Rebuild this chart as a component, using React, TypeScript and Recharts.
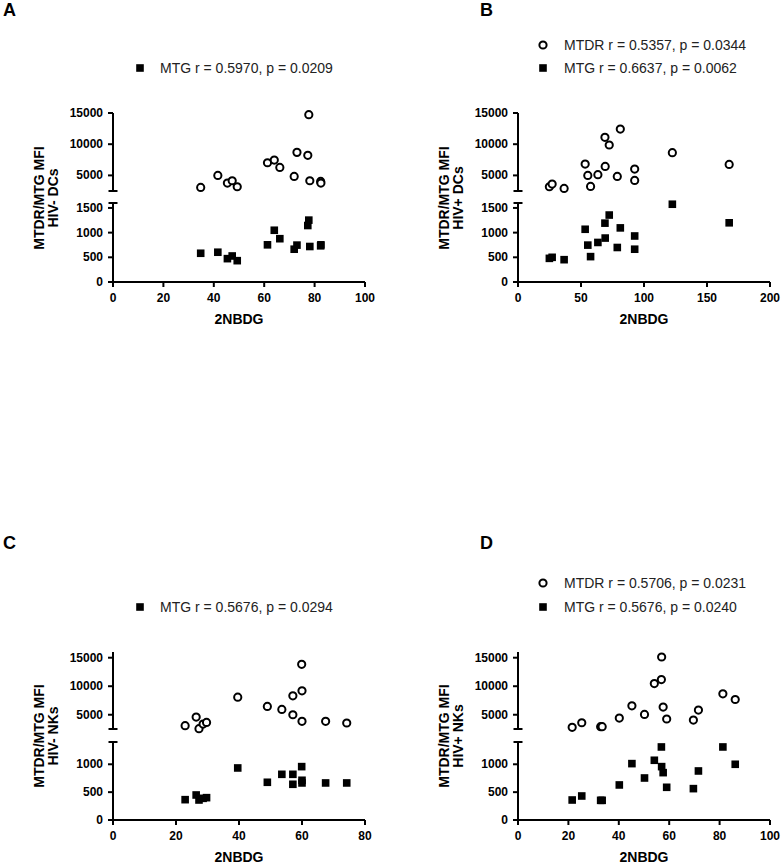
import { ScatterChart, Scatter, XAxis, YAxis } from 'recharts';

const FONT = '"Liberation Sans", Arial, Helvetica, sans-serif';

// A: HIV- DCs
const dcNegX = [34.8, 41.6, 45.4, 47.3, 49.3, 61.3, 64.0, 66.2, 71.9, 73.0, 77.3, 77.7, 78.1, 82.4, 82.5];
const dcNegMTDR = [3075, 5000, 3770, 4140, 3180, 7030, 7460, 6280, 4840, 8690, 8210, 14730, 4140, 4040, 3770];
const dcNegMTG = [582, 603, 473, 527, 432, 753, 1048, 877, 664, 747, 1144, 1253, 719, 733, 753];

// B: HIV+ DCs
const dcPosX = [24.9, 27.1, 36.6, 53.3, 55.4, 57.6, 63.4, 69.0, 69.2, 72.4, 78.8, 81.2, 92.6, 92.6, 122.5, 167.6];
const dcPosMTDR = [3180, 3610, 2910, 6820, 5000, 3240, 5110, 11100, 6440, 9870, 4840, 12430, 6020, 4200, 8640, 6760];
const dcPosMTG = [479, 500, 452, 1068, 747, 514, 801, 1192, 890, 1356, 699, 1096, 932, 664, 1575, 1199];

// C: HIV- NKs
const nkNegX = [22.9, 26.4, 27.3, 28.6, 29.7, 39.6, 49.0, 53.6, 57.1, 57.1, 60.0, 59.9, 60.0, 67.5, 74.2];
const nkNegMTDR = [3080, 4590, 2560, 3370, 3660, 8080, 6450, 5930, 8310, 5000, 9190, 13840, 3840, 3840, 3550];
const nkNegMTG = [365, 449, 359, 389, 401, 934, 677, 820, 820, 641, 713, 958, 665, 665, 665];

// D: HIV+ NKs
const nkPosX = [21.5, 25.3, 32.8, 33.4, 40.2, 45.2, 50.2, 54.1, 56.9, 57.0, 57.6, 59.0, 69.6, 71.6, 81.3, 86.2];
const nkPosMTDR = [2790, 3600, 2910, 2910, 4420, 6570, 5060, 10470, 11160, 15120, 6340, 4250, 4070, 5810, 8660, 7670];
const nkPosMTG = [359, 431, 353, 353, 629, 1012, 754, 1072, 1311, 958, 850, 587, 563, 880, 1311, 1000];

const xTicks100 = [0, 20, 40, 60, 80, 100];
const xTicks200 = [0, 50, 100, 150, 200];
const xTicks80 = [0, 20, 40, 60, 80];

const toPoints = (xs: number[], ys: number[]) => xs.map((x, i) => ({ x, y: ys[i] }));

const TICK = 5;
const GAP = 5;
const YW = 60;
const PAD = 6;
const RIGHT = 18;
const XH = 26;
const PLOT_W = 252;

const axisLine = { stroke: '#000', strokeWidth: 2 };

function YTick(props: any) {
  const { x, y, payload, cap } = props;
  const ax = x + TICK + GAP;
  if (payload.value === cap) {
    return <line x1={ax - 4.5} x2={ax + 4.5} y1={y} y2={y} stroke="#000" strokeWidth={2} />;
  }
  return (
    <g>
      <line x1={ax - TICK} x2={ax} y1={y} y2={y} stroke="#000" strokeWidth={2} />
      <text x={x} y={y} textAnchor="end" dominantBaseline="central" fontSize={12} fontWeight="bold" fontFamily={FONT} fill="#000">
        {payload.value}
      </text>
    </g>
  );
}

const OpenCircle = (p: any) => <circle cx={p.cx} cy={p.cy} r={3.6} fill="#fff" stroke="#000" strokeWidth={2} />;
const FilledSquare = (p: any) => <rect x={p.cx - 3.8} y={p.cy - 3.8} width={7.6} height={7.6} fill="#000" />;

type LegendRow = { kind: 'circle' | 'square'; label: string; y: number };

type PanelProps = {
  letter: string;
  letterX: number;
  letterTop: number;
  legend: LegendRow[];
  iconX: number;
  textX: number;
  yTitle: string[];
  plotLeft: number;
  xDomain: [number, number];
  xTicks: number[];
  upperTop: number;
  upperBottom: number;
  upperDomain: [number, number];
  upperTicks: number[];
  lowerTop: number;
  lowerBottom: number;
  lowerDomain: [number, number];
  lowerTicks: number[];
  xs: number[];
  mtdr: number[];
  mtg: number[];
};

function Panel(p: PanelProps) {
  const upperH = p.upperBottom - p.upperTop;
  const lowerH = p.lowerBottom - p.lowerTop;
  const circles = toPoints(p.xs, p.mtdr);
  const squares = toPoints(p.xs, p.mtg);
  const titleCy = (p.upperTop + p.lowerBottom) / 2;
  const titleCx = p.plotLeft - 67;
  return (
    <>
      <div style={{ position: 'absolute', left: p.letterX, top: p.letterTop - 4, fontSize: 18, fontWeight: 'bold', lineHeight: '20px' }}>
        {p.letter}
      </div>
      {p.legend.map((row) => (
        <div key={row.label}>
          <svg width={12} height={12} style={{ position: 'absolute', left: p.iconX - 6, top: row.y - 6 }}>
            {row.kind === 'circle' ? (
              <circle cx={6} cy={6} r={3.6} fill="#fff" stroke="#000" strokeWidth={2} />
            ) : (
              <rect x={2.2} y={2.2} width={7.6} height={7.6} fill="#000" />
            )}
          </svg>
          <div style={{ position: 'absolute', left: p.textX, top: row.y - 8, fontSize: 14, lineHeight: '16px', whiteSpace: 'nowrap', color: '#222' }}>
            {row.label}
          </div>
        </div>
      ))}
      <div
        style={{
          position: 'absolute',
          left: titleCx - 100,
          top: titleCy - 14,
          width: 200,
          height: 28,
          lineHeight: '14px',
          fontSize: 14,
          fontWeight: 'bold',
          textAlign: 'center',
          transform: 'rotate(-90deg)',
          whiteSpace: 'nowrap',
        }}
      >
        {p.yTitle[0]}
        <br />
        {p.yTitle[1]}
      </div>
      <div style={{ position: 'absolute', left: p.plotLeft - YW, top: p.upperTop - PAD }}>
        <ScatterChart width={YW + PLOT_W + RIGHT} height={upperH + 2 * PAD} margin={{ top: PAD, right: RIGHT, bottom: PAD, left: 0 }}>
          <XAxis type="number" dataKey="x" domain={p.xDomain} hide />
          <YAxis
            type="number"
            dataKey="y"
            domain={p.upperDomain}
            ticks={p.upperTicks}
            interval={0}
            width={YW}
            axisLine={axisLine}
            tickLine={false}
            tickSize={TICK}
            tickMargin={GAP}
            tick={(t: any) => <YTick {...t} cap={p.upperDomain[0]} />}
          />
          <Scatter data={circles} shape={OpenCircle} isAnimationActive={false} />
        </ScatterChart>
      </div>
      <div style={{ position: 'absolute', left: p.plotLeft - YW, top: p.lowerTop - PAD }}>
        <ScatterChart width={YW + PLOT_W + RIGHT} height={PAD + lowerH + XH} margin={{ top: PAD, right: RIGHT, bottom: 0, left: 0 }}>
          <XAxis
            type="number"
            dataKey="x"
            domain={p.xDomain}
            ticks={p.xTicks}
            interval={0}
            height={XH}
            axisLine={axisLine}
            tickLine={axisLine}
            tickSize={5}
            tickMargin={6}
            tick={{ fill: '#000', fontSize: 12, fontWeight: 'bold', fontFamily: FONT }}
          />
          <YAxis
            type="number"
            dataKey="y"
            domain={p.lowerDomain}
            ticks={p.lowerTicks}
            interval={0}
            width={YW}
            axisLine={axisLine}
            tickLine={false}
            tickSize={TICK}
            tickMargin={GAP}
            tick={(t: any) => <YTick {...t} cap={p.lowerDomain[1]} />}
          />
          <Scatter data={squares} shape={FilledSquare} isAnimationActive={false} />
        </ScatterChart>
      </div>
      <div
        style={{
          position: 'absolute',
          left: p.plotLeft,
          width: PLOT_W,
          top: p.lowerBottom + 29,
          textAlign: 'center',
          fontSize: 14,
          fontWeight: 'bold',
          lineHeight: '16px',
        }}
      >
        2NBDG
      </div>
    </>
  );
}

export default function App() {
  return (
    <div style={{ position: 'absolute', left: 0, top: 0, width: 782, height: 864, background: '#fff', fontFamily: FONT, color: '#000' }}>
      <Panel
        letter="A"
        letterX={3}
        letterTop={4}
        legend={[{ kind: 'square', label: 'MTG r = 0.5970, p = 0.0209', y: 68 }]}
        iconX={140}
        textX={160}
        yTitle={['MTDR/MTG MFI', 'HIV- DCs']}
        plotLeft={113}
        xDomain={[0, 100]}
        xTicks={xTicks100}
        upperTop={113}
        upperBottom={191}
        upperDomain={[2500, 15000]}
        upperTicks={[2500, 5000, 10000, 15000]}
        lowerTop={203}
        lowerBottom={282}
        lowerDomain={[0, 1600]}
        lowerTicks={[0, 500, 1000, 1500, 1600]}
        xs={dcNegX}
        mtdr={dcNegMTDR}
        mtg={dcNegMTG}
      />
      <Panel
        letter="B"
        letterX={480}
        letterTop={4}
        legend={[
          { kind: 'circle', label: 'MTDR r = 0.5357, p = 0.0344', y: 45 },
          { kind: 'square', label: 'MTG r = 0.6637, p = 0.0062', y: 68 },
        ]}
        iconX={543}
        textX={564}
        yTitle={['MTDR/MTG MFI', 'HIV+ DCs']}
        plotLeft={518}
        xDomain={[0, 200]}
        xTicks={xTicks200}
        upperTop={113}
        upperBottom={191}
        upperDomain={[2500, 15000]}
        upperTicks={[2500, 5000, 10000, 15000]}
        lowerTop={203}
        lowerBottom={282}
        lowerDomain={[0, 1600]}
        lowerTicks={[0, 500, 1000, 1500, 1600]}
        xs={dcPosX}
        mtdr={dcPosMTDR}
        mtg={dcPosMTG}
      />
      <Panel
        letter="C"
        letterX={3}
        letterTop={537}
        legend={[{ kind: 'square', label: 'MTG r = 0.5676, p = 0.0294', y: 607 }]}
        iconX={140}
        textX={160}
        yTitle={['MTDR/MTG MFI', 'HIV- NKs']}
        plotLeft={113}
        xDomain={[0, 80]}
        xTicks={xTicks80}
        upperTop={652}
        upperBottom={729}
        upperDomain={[2500, 16000]}
        upperTicks={[2500, 5000, 10000, 15000]}
        lowerTop={742}
        lowerBottom={820}
        lowerDomain={[0, 1400]}
        lowerTicks={[0, 500, 1000, 1400]}
        xs={nkNegX}
        mtdr={nkNegMTDR}
        mtg={nkNegMTG}
      />
      <Panel
        letter="D"
        letterX={480}
        letterTop={537}
        legend={[
          { kind: 'circle', label: 'MTDR r = 0.5706, p = 0.0231', y: 583 },
          { kind: 'square', label: 'MTG r = 0.5676, p = 0.0240', y: 607 },
        ]}
        iconX={543}
        textX={564}
        yTitle={['MTDR/MTG MFI', 'HIV+ NKs']}
        plotLeft={518}
        xDomain={[0, 100]}
        xTicks={xTicks100}
        upperTop={652}
        upperBottom={729}
        upperDomain={[2500, 16000]}
        upperTicks={[2500, 5000, 10000, 15000]}
        lowerTop={742}
        lowerBottom={820}
        lowerDomain={[0, 1400]}
        lowerTicks={[0, 500, 1000, 1400]}
        xs={nkPosX}
        mtdr={nkPosMTDR}
        mtg={nkPosMTG}
      />
    </div>
  );
}
